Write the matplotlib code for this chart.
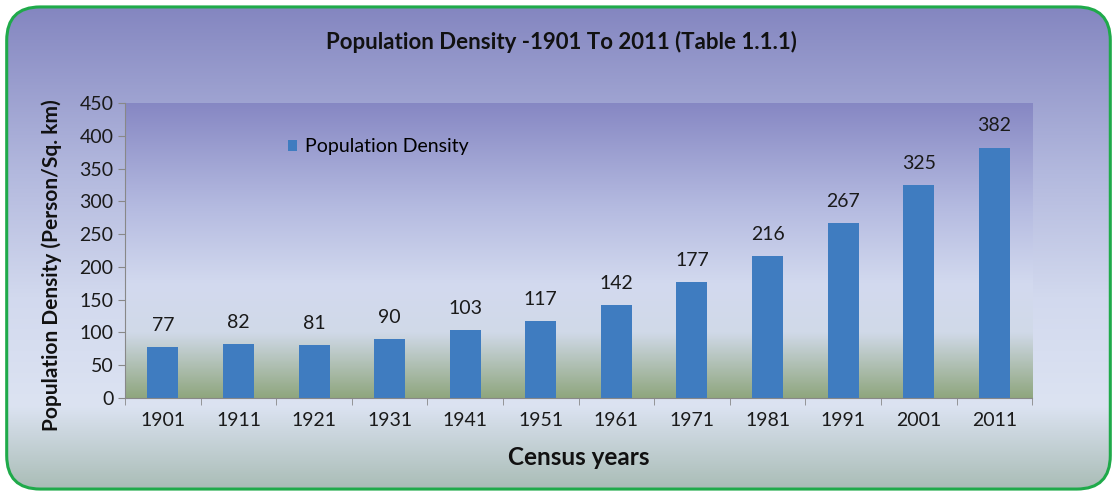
import matplotlib.pyplot as plt
import numpy as np
from matplotlib.colors import LinearSegmentedColormap
from matplotlib.patches import FancyBboxPatch

years = ['1901', '1911', '1921', '1931', '1941', '1951',
         '1961', '1971', '1981', '1991', '2001', '2011']
density = [77, 82, 81, 90, 103, 117, 142, 177, 216, 267, 325, 382]

plt.rcParams['font.family'] = ['Lato', 'DejaVu Sans']

fig = plt.figure(figsize=(11.17, 4.95), dpi=100)
fig.patch.set_facecolor('white')

# background gradient of the whole card, clipped to a rounded box
bg = fig.add_axes([0, 0, 1, 1], zorder=-10)
bg_cmap = LinearSegmentedColormap.from_list('bg', [
    (0.0, '#8284bf'), (0.35, '#b3b9de'), (0.6, '#d2d9ee'),
    (0.82, '#dce3f2'), (1.0, '#a6bab2')])
bg.imshow(np.linspace(0, 1, 256).reshape(-1, 1), cmap=bg_cmap,
          aspect='auto', extent=[0, 1, 0, 1], origin='upper')
bg.set_xlim(0, 1)
bg.set_ylim(0, 1)
bg.axis('off')
card = FancyBboxPatch((0.006, 0.012), 0.988, 0.974,
                      boxstyle='round,pad=0,rounding_size=0.03',
                      transform=bg.transAxes, facecolor='none',
                      edgecolor='#1faa4a', linewidth=2.2, zorder=5,
                      mutation_aspect=1117 / 495)
bg.add_patch(card)
bg.images[0].set_clip_path(card)

ax = fig.add_axes([0.112, 0.196, 0.812, 0.596])
x = np.arange(len(years))

# plot area gradient
pa_cmap = LinearSegmentedColormap.from_list('pa', [
    (0.0, '#8687c3'), (0.35, '#b4bae0'), (0.62, '#d3daef'),
    (0.78, '#d0d9e8'), (1.0, '#8fa67e')])
ax.imshow(np.linspace(0, 1, 256).reshape(-1, 1), cmap=pa_cmap,
          aspect='auto', extent=[-0.5, 11.5, 0, 450], origin='upper', zorder=0)

ax.bar(x, density, width=0.41, color='#3f7cc0',
       label='Population Density', zorder=2)
for xi, v in zip(x, density):
    ax.text(xi, v + 20, str(v), ha='center', va='bottom',
            fontsize=14, color='#1a1a1a')

ax.set_xlim(-0.5, 11.5)
ax.set_ylim(0, 450)
ax.set_yticks(range(0, 451, 50))
ax.set_xticks(x)
ax.set_xticklabels(years)
ax.set_xticks(np.arange(-0.5, 12, 1), minor=True)
ax.tick_params(axis='x', which='major', length=0, pad=10,
               labelsize=14, labelcolor='#1a1a1a')
ax.tick_params(axis='x', which='minor', length=5, color='#888888')
ax.tick_params(axis='y', length=5, color='#888888', labelsize=14,
               labelcolor='#1a1a1a')
for s in ['top', 'right']:
    ax.spines[s].set_visible(False)
for s in ['left', 'bottom']:
    ax.spines[s].set_color('#888888')

ax.set_ylabel('Population Density (Person/Sq. km)', fontsize=15,
              fontweight='bold', color='#111111')
ax.yaxis.set_label_coords(-0.07, 0.45)
ax.set_xlabel('Census years', fontsize=17.5, fontweight='bold',
              color='#111111', labelpad=12)

ax.legend(loc='upper left', bbox_to_anchor=(0.16, 0.94), frameon=False,
          fontsize=14, handlelength=0.5, handleheight=0.5,
          handletextpad=0.4)

fig.text(0.503, 0.915, 'Population Density -1901 To 2011 (Table 1.1.1)',
         ha='center', va='center', fontsize=16, fontweight='bold',
         color='#111111')

fig.savefig('out.png', dpi=100)
